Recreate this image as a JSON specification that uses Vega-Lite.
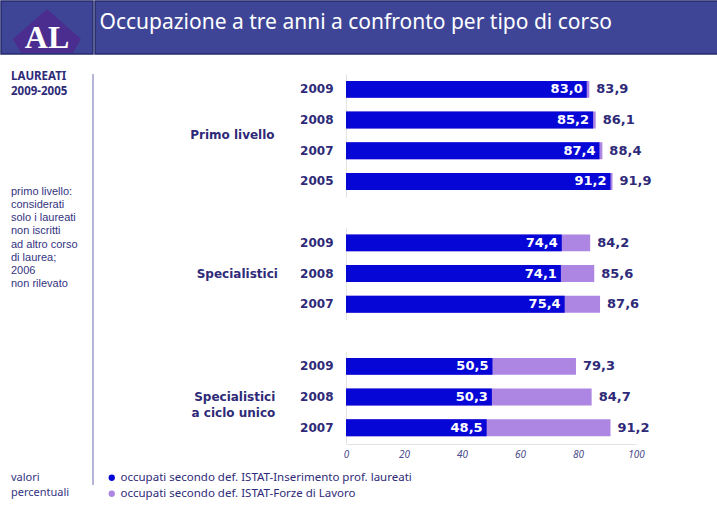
{
  "$schema": "https://vega.github.io/schema/vega-lite/v6.json",
  "background": "white",
  "padding": 0,
  "spacing": 16,
  "config": {
    "view": {"stroke": null},
    "font": "Noto Sans",
    "locale": {"number": {"decimal": ",", "thousands": ".", "grouping": [3], "currency": ["", " €"]}}
  },
  "vconcat": [
    {
      "spacing": 0,
      "hconcat": [
        {
          "width": 92,
          "height": 53,
          "view": {"fill": "#3E4597", "stroke": "#262B6B", "strokeWidth": 1.5},
          "data": {"values": [{"sigla": "AL"}]},
          "layer": [
            {
              "mark": {"type": "point", "shape": "M0,-0.725L1.333,0.451L1.02,1L-1.02,1L-1.333,0.451Z", "size": 2601, "filled": true, "color": "#4B2D8F", "opacity": 1, "strokeWidth": 0},
              "encoding": {}
            },
            {
              "mark": {"type": "text", "font": "Liberation Serif", "fontWeight": "bold", "fontSize": 32, "color": "white", "baseline": "middle", "dy": 10},
              "encoding": {"text": {"field": "sigla"}}
            }
          ]
        },
        {
          "width": 625,
          "height": 53,
          "view": {"fill": "#3E4597", "stroke": "#262B6B", "strokeWidth": 1.5},
          "data": {"values": [{"titolo": "Occupazione a tre anni a confronto per tipo di corso"}]},
          "mark": {"type": "text", "fontSize": 21, "color": "white", "align": "left", "baseline": "middle", "dx": -308, "dy": -5},
          "encoding": {"text": {"field": "titolo"}}
        }
      ]
    },
    {
      "spacing": 96,
      "hconcat": [
        {
          "width": 92,
          "height": 411,
          "data": {"values": [{"bordo": "sidebar"}]},
          "mark": {"type": "rule", "color": "#9C9CCF", "strokeWidth": 1.5},
          "encoding": {"x": {"value": "width"}},
          "title": {
            "text": ["LAUREATI", "2009-2005"],
            "subtitle": ["primo livello:", "considerati", "solo i laureati", "non iscritti", "ad altro corso", "di laurea;", "2006", "non rilevato"],
            "anchor": "start",
            "orient": "top",
            "offset": -216,
            "dx": 10,
            "font": "Noto Sans",
            "fontSize": 11.5,
            "fontWeight": "bold",
            "color": "#2E2A78",
            "lineHeight": 15,
            "subtitleFont": "Liberation Sans",
            "subtitleFontSize": 11,
            "subtitleColor": "#33337F",
            "subtitleLineHeight": 13.2,
            "subtitlePadding": 88
          }
        },
        {
          "data": {
            "values": [
              {"corso": "Primo livello", "anno": 2009, "definizione": "occupati secondo def. ISTAT-Forze di Lavoro", "valore": 83.9},
              {"corso": "Primo livello", "anno": 2008, "definizione": "occupati secondo def. ISTAT-Forze di Lavoro", "valore": 86.1},
              {"corso": "Primo livello", "anno": 2007, "definizione": "occupati secondo def. ISTAT-Forze di Lavoro", "valore": 88.4},
              {"corso": "Primo livello", "anno": 2005, "definizione": "occupati secondo def. ISTAT-Forze di Lavoro", "valore": 91.9},
              {"corso": "Specialistici", "anno": 2009, "definizione": "occupati secondo def. ISTAT-Forze di Lavoro", "valore": 84.2},
              {"corso": "Specialistici", "anno": 2008, "definizione": "occupati secondo def. ISTAT-Forze di Lavoro", "valore": 85.6},
              {"corso": "Specialistici", "anno": 2007, "definizione": "occupati secondo def. ISTAT-Forze di Lavoro", "valore": 87.6},
              {"corso": "Specialistici a ciclo unico", "anno": 2009, "definizione": "occupati secondo def. ISTAT-Forze di Lavoro", "valore": 79.3},
              {"corso": "Specialistici a ciclo unico", "anno": 2008, "definizione": "occupati secondo def. ISTAT-Forze di Lavoro", "valore": 84.7},
              {"corso": "Specialistici a ciclo unico", "anno": 2007, "definizione": "occupati secondo def. ISTAT-Forze di Lavoro", "valore": 91.2},
              {"corso": "Primo livello", "anno": 2009, "definizione": "occupati secondo def. ISTAT-Inserimento prof. laureati", "valore": 83.0},
              {"corso": "Primo livello", "anno": 2008, "definizione": "occupati secondo def. ISTAT-Inserimento prof. laureati", "valore": 85.2},
              {"corso": "Primo livello", "anno": 2007, "definizione": "occupati secondo def. ISTAT-Inserimento prof. laureati", "valore": 87.4},
              {"corso": "Primo livello", "anno": 2005, "definizione": "occupati secondo def. ISTAT-Inserimento prof. laureati", "valore": 91.2},
              {"corso": "Specialistici", "anno": 2009, "definizione": "occupati secondo def. ISTAT-Inserimento prof. laureati", "valore": 74.4},
              {"corso": "Specialistici", "anno": 2008, "definizione": "occupati secondo def. ISTAT-Inserimento prof. laureati", "valore": 74.1},
              {"corso": "Specialistici", "anno": 2007, "definizione": "occupati secondo def. ISTAT-Inserimento prof. laureati", "valore": 75.4},
              {"corso": "Specialistici a ciclo unico", "anno": 2009, "definizione": "occupati secondo def. ISTAT-Inserimento prof. laureati", "valore": 50.5},
              {"corso": "Specialistici a ciclo unico", "anno": 2008, "definizione": "occupati secondo def. ISTAT-Inserimento prof. laureati", "valore": 50.3},
              {"corso": "Specialistici a ciclo unico", "anno": 2007, "definizione": "occupati secondo def. ISTAT-Inserimento prof. laureati", "valore": 48.5}
            ]
          },
          "facet": {
            "row": {
              "field": "corso",
              "type": "nominal",
              "sort": ["Primo livello", "Specialistici", "Specialistici a ciclo unico"],
              "title": null,
              "header": {
                "labelOrient": "left",
                "labelAngle": 0,
                "labelAlign": "right",
                "labelBaseline": "middle",
                "labelFont": "DejaVu Sans",
                "labelFontSize": 12,
                "labelFontWeight": "bold",
                "labelColor": "#2E2A78",
                "labelPadding": -60,
                "labelLineHeight": 16,
                "labelExpr": "datum.value == 'Specialistici a ciclo unico' ? ['Specialistici', 'a ciclo unico'] : datum.value"
              }
            }
          },
          "spacing": {"row": 30.5},
          "resolve": {"scale": {"y": "independent"}, "axis": {"x": "shared"}},
          "spec": {
            "width": 290,
            "height": {"step": 30.7},
            "encoding": {
              "y": {
                "field": "anno",
                "type": "nominal",
                "sort": "descending",
                "scale": {"paddingInner": 0.45, "paddingOuter": 0.225},
                "axis": {"title": null, "ticks": false, "labelPadding": 13, "labelFont": "DejaVu Sans", "labelFontSize": 12, "labelFontWeight": "bold", "labelColor": "#2E2A78", "domainColor": "#E3E3E3"}
              }
            },
            "layer": [
              {
                "transform": [{"filter": "datum.definizione == 'occupati secondo def. ISTAT-Forze di Lavoro'"}],
                "mark": {"type": "bar"},
                "encoding": {
                  "x": {"field": "valore", "type": "quantitative", "stack": null, "scale": {"domain": [0, 100]},
                    "axis": {"title": null, "values": [0, 20, 40, 60, 80, 100], "ticks": false, "grid": false, "labelFont": "Noto Sans", "labelFontStyle": "italic", "labelFontSize": 10, "labelColor": "#4B4B8A", "domainColor": "#E3E3E3", "labelPadding": 5, "labelFlush": false}},
                  "color": {
                    "field": "definizione",
                    "type": "nominal",
                    "scale": {"domain": ["occupati secondo def. ISTAT-Inserimento prof. laureati", "occupati secondo def. ISTAT-Forze di Lavoro"], "range": ["#0606D6", "#AC86E2"]},
                    "legend": {
                      "orient": "none",
                      "legendX": 10,
                      "legendY": 471,
                      "padding": 0,
                      "direction": "vertical",
                      "title": ["valori", "percentuali"],
                      "titleOrient": "left",
                      "titleAnchor": "start",
                      "titleAlign": "left",
                      "titleBaseline": "top",
                      "titleFont": "Noto Sans",
                      "titleFontSize": 11,
                      "titleFontWeight": "normal",
                      "titleColor": "#33337F",
                      "titleLineHeight": 15,
                      "titlePadding": 36,
                      "symbolType": "circle",
                      "symbolSize": 40,
                      "symbolStrokeWidth": 0,
                      "labelFont": "Noto Sans",
                      "labelFontSize": 11.5,
                      "labelColor": "#2E2A78",
                      "labelOffset": 3,
                      "labelLimit": 400,
                      "rowPadding": 3
                    }
                  }
                }
              },
              {
                "transform": [{"filter": "datum.definizione == 'occupati secondo def. ISTAT-Inserimento prof. laureati'"}],
                "mark": {"type": "bar"},
                "encoding": {
                  "x": {"field": "valore", "type": "quantitative", "stack": null},
                  "color": {"field": "definizione", "type": "nominal"}
                }
              },
              {
                "transform": [{"filter": "datum.definizione == 'occupati secondo def. ISTAT-Inserimento prof. laureati'"}],
                "mark": {"type": "text", "align": "right", "baseline": "middle", "dx": -4, "font": "DejaVu Sans", "fontSize": 13, "fontWeight": "bold", "color": "white"},
                "encoding": {
                  "x": {"field": "valore", "type": "quantitative"},
                  "text": {"field": "valore", "type": "quantitative", "format": ".1f"}
                }
              },
              {
                "transform": [{"filter": "datum.definizione == 'occupati secondo def. ISTAT-Forze di Lavoro'"}],
                "mark": {"type": "text", "align": "left", "baseline": "middle", "dx": 7, "font": "DejaVu Sans", "fontSize": 13, "fontWeight": "bold", "color": "#2E2A78"},
                "encoding": {
                  "x": {"field": "valore", "type": "quantitative"},
                  "text": {"field": "valore", "type": "quantitative", "format": ".1f"}
                }
              }
            ]
          }
        }
      ]
    }
  ]
}
